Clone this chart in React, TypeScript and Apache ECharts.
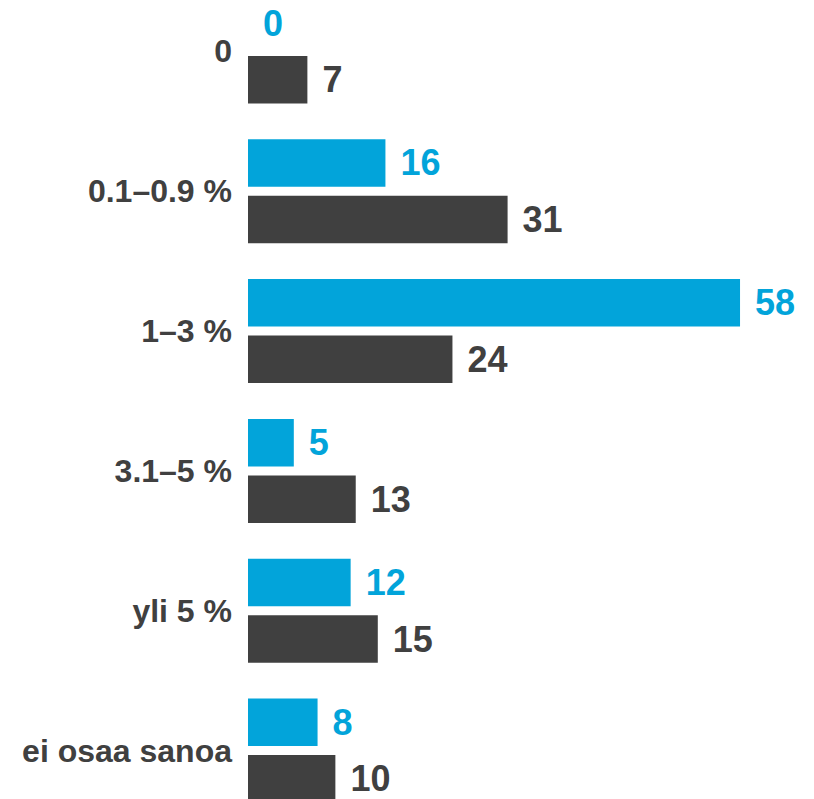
import React, { useEffect, useRef } from "react";
import * as echarts from "echarts";

const categories = ["0", "0.1–0.9 %", "1–3 %", "3.1–5 %", "yli 5 %", "ei osaa sanoa"];
// bar lengths (labels show the rounded values)
const blueValues = [0, 16.2, 58, 5.4, 12.1, 8.2];
const grayValues = [7, 30.6, 24.1, 12.7, 15.3, 10.3];

const BLUE = "#02a4da";
const GRAY = "#404040";
const FONT = "'Liberation Sans', Arial, Helvetica, sans-serif";

export default function App() {
  const ref = useRef<HTMLDivElement>(null);
  useEffect(() => {
    if (!ref.current) return;
    const chart = echarts.init(ref.current, undefined, { renderer: "svg" });
    const valueLabel = (color: string) => ({
      show: true,
      position: "right" as const,
      distance: 15,
      color,
      fontFamily: FONT,
      fontWeight: "bold" as const,
      fontSize: 36,
      formatter: (p: any) => String(Math.round(p.value)),
    });
    chart.setOption({
      animation: false,
      backgroundColor: "#ffffff",
      grid: { left: 248, top: 0.5, width: 509, height: 839, containLabel: false },
      xAxis: {
        type: "value",
        min: 0,
        max: 60,
        show: false,
      },
      yAxis: {
        type: "category",
        data: categories,
        inverse: true,
        axisLine: { show: false },
        axisTick: { show: false },
        splitLine: { show: false },
        axisLabel: {
          color: GRAY,
          fontFamily: FONT,
          fontWeight: "bold",
          fontSize: 32,
          margin: 16,
        },
      },
      series: [
        {
          type: "bar",
          data: blueValues,
          barWidth: 47.5,
          barGap: "19%",
          itemStyle: { color: BLUE },
          label: valueLabel(BLUE),
        },
        {
          type: "bar",
          data: grayValues,
          barWidth: 47.5,
          barGap: "19%",
          itemStyle: { color: GRAY },
          label: valueLabel(GRAY),
        },
      ],
    });
    return () => chart.dispose();
  }, []);
  return (
    <div
      ref={ref}
      style={{ position: "fixed", left: 0, top: -19, width: 814, height: 858 }}
    />
  );
}
